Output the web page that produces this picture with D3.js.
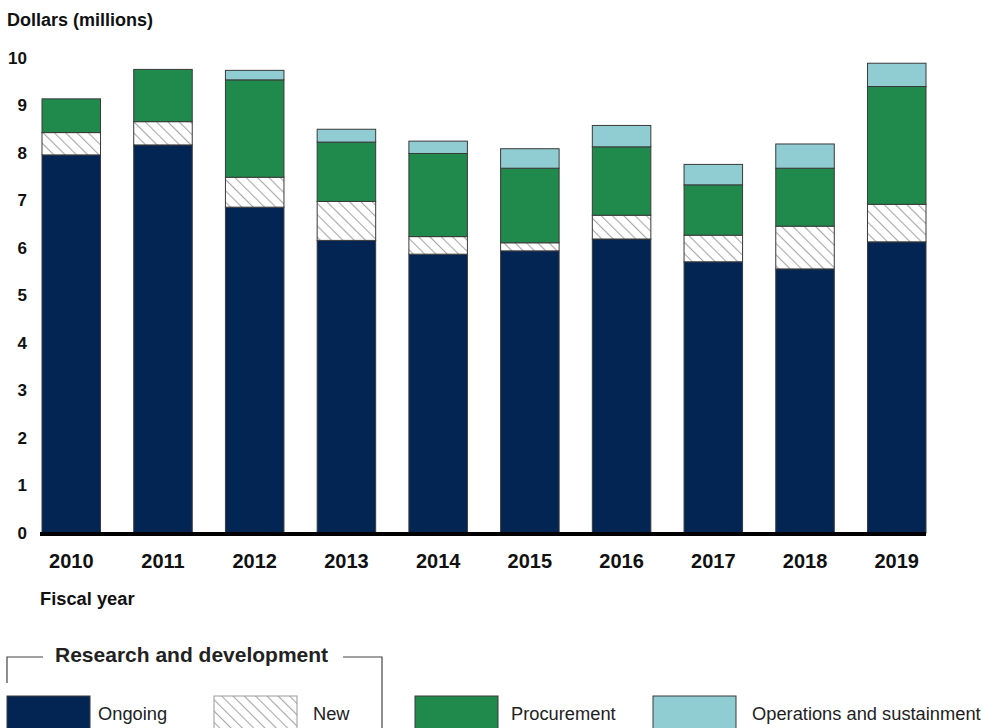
<!DOCTYPE html>
<html>
<head>
<meta charset="utf-8">
<script src="https://cdn.jsdelivr.net/npm/d3@7"></script>
<style>
  body { margin: 0; background: #fff; }
  svg { display: block; font-family: "Liberation Sans", Arial, sans-serif; }
</style>
</head>
<body>
<script>
// fiscal years and the four spending parts (dollars in millions)
var years = ["2010", "2011", "2012", "2013", "2014", "2015", "2016", "2017", "2018", "2019"];
var ongoing     = [7.96, 8.17, 6.86, 6.16, 5.87, 5.94, 6.19, 5.71, 5.56, 6.13];
var newRD       = [0.47, 0.49, 0.63, 0.82, 0.37, 0.17, 0.50, 0.56, 0.90, 0.79];
var procurement = [0.71, 1.10, 2.05, 1.25, 1.75, 1.57, 1.44, 1.06, 1.22, 2.48];
var operations  = [0.00, 0.00, 0.20, 0.27, 0.26, 0.41, 0.45, 0.43, 0.51, 0.49];
var yTicks = [0, 1, 2, 3, 4, 5, 6, 7, 8, 9, 10];

var keys = ["ongoing", "new", "procurement", "operations"];
var colors = {
	ongoing: "#022554",
	"new": "url(#hatch)",
	procurement: "#1f8a4b",
	operations: "#8fcdd2"
};

var w = 982, h = 728;

var svg = d3.select("body").append("svg")
	.attr("width", w)
	.attr("height", h);

// diagonal hatch for new R&D (lines run top-left to bottom-right)
var defs = svg.append("defs");
var pat = defs.append("pattern")
	.attr("id", "hatch")
	.attr("patternUnits", "userSpaceOnUse")
	.attr("width", 8)
	.attr("height", 8)
	.attr("patternTransform", "rotate(-45)");
pat.append("rect").attr("width", 8).attr("height", 8).attr("fill", "#fff");
pat.append("line")
	.attr("x1", 0).attr("y1", 0).attr("x2", 0).attr("y2", 8)
	.attr("stroke", "#a8a8a8")
	.attr("stroke-width", 2.2);

var rows = years.map(function(y, i) {
	return { year: y, ongoing: ongoing[i], "new": newRD[i], procurement: procurement[i], operations: operations[i] };
});

var x = d3.scaleBand()
	.domain(years)
	.range([42, 926])
	.paddingInner(0.362)
	.paddingOuter(0);

var y = d3.scaleLinear()
	.domain([0, 10])
	.range([533, 58]);

var stack = d3.stack().keys(keys)(rows);

svg.append("g")
	.selectAll("g")
	.data(stack)
	.enter()
	.append("g")
	.attr("fill", function(d) { return colors[d.key]; })
	.selectAll("rect")
	.data(function(d) { return d.filter(function(p) { return p[1] - p[0] > 0; }); })
	.enter()
	.append("rect")
	.attr("x", function(d) { return x(d.data.year); })
	.attr("y", function(d) { return y(d[1]); })
	.attr("width", x.bandwidth())
	.attr("height", function(d) { return y(d[0]) - y(d[1]); })
	.attr("stroke", "#3a3a3a")
	.attr("stroke-width", 1);

// y axis labels only, no line
var yAxis = d3.axisLeft(y).tickValues(yTicks).tickSize(0).tickPadding(0);
var gy = svg.append("g")
	.attr("transform", "translate(27,0)")
	.call(yAxis);
gy.select(".domain").remove();
gy.selectAll("text")
	.attr("font-size", "17px")
	.attr("font-weight", "bold")
	.attr("font-family", "Liberation Sans, Arial, sans-serif")
	.attr("fill", "#111");

// x axis: thick baseline and year labels
var xAxis = d3.axisBottom(x).tickSize(0).tickPadding(0);
var gx = svg.append("g")
	.attr("transform", "translate(0,534)")
	.call(xAxis);
gx.select(".domain")
	.attr("d", "M40,0H926")
	.attr("stroke", "#000")
	.attr("stroke-width", 4);
gx.selectAll("text")
	.attr("y", 34)
	.attr("dy", 0)
	.attr("font-size", "20px")
	.attr("font-weight", "bold")
	.attr("font-family", "Liberation Sans, Arial, sans-serif")
	.attr("fill", "#111");

svg.append("text")
	.attr("x", 7)
	.attr("y", 26)
	.attr("font-size", "18px")
	.attr("font-weight", "bold")
	.attr("fill", "#111")
	.text("Dollars (millions)");

svg.append("text")
	.attr("x", 40)
	.attr("y", 605)
	.attr("font-size", "18.3px")
	.attr("font-weight", "bold")
	.attr("fill", "#111")
	.text("Fiscal year");

// legend
var lg = svg.append("g");
lg.append("path")
	.attr("d", "M7,683V657H43")
	.attr("fill", "none")
	.attr("stroke", "#444")
	.attr("stroke-width", 1.2);
lg.append("path")
	.attr("d", "M343,657H382V728")
	.attr("fill", "none")
	.attr("stroke", "#444")
	.attr("stroke-width", 1.2);
lg.append("text")
	.attr("x", 55)
	.attr("y", 662)
	.attr("font-size", "21px")
	.attr("font-weight", "bold")
	.attr("fill", "#222")
	.text("Research and development");

var legendItems = [
	{ key: "ongoing", label: "Ongoing", x: 7, tx: 98 },
	{ key: "new", label: "New", x: 214, tx: 313 },
	{ key: "procurement", label: "Procurement", x: 415, tx: 511 },
	{ key: "operations", label: "Operations and sustainment", x: 653, tx: 752 }
];

var li = lg.selectAll(".item")
	.data(legendItems)
	.enter()
	.append("g")
	.attr("class", "item");
li.append("rect")
	.attr("x", function(d) { return d.x; })
	.attr("y", 696)
	.attr("width", 83)
	.attr("height", 40)
	.attr("fill", function(d) { return colors[d.key]; })
	.attr("stroke", function(d) { return d.key === "new" ? "#999" : "#3a3a3a"; })
	.attr("stroke-width", 1);
li.append("text")
	.attr("x", function(d) { return d.tx; })
	.attr("y", 720)
	.attr("font-size", "18.3px")
	.attr("fill", "#222")
	.text(function(d) { return d.label; });
</script>
</body>
</html>
